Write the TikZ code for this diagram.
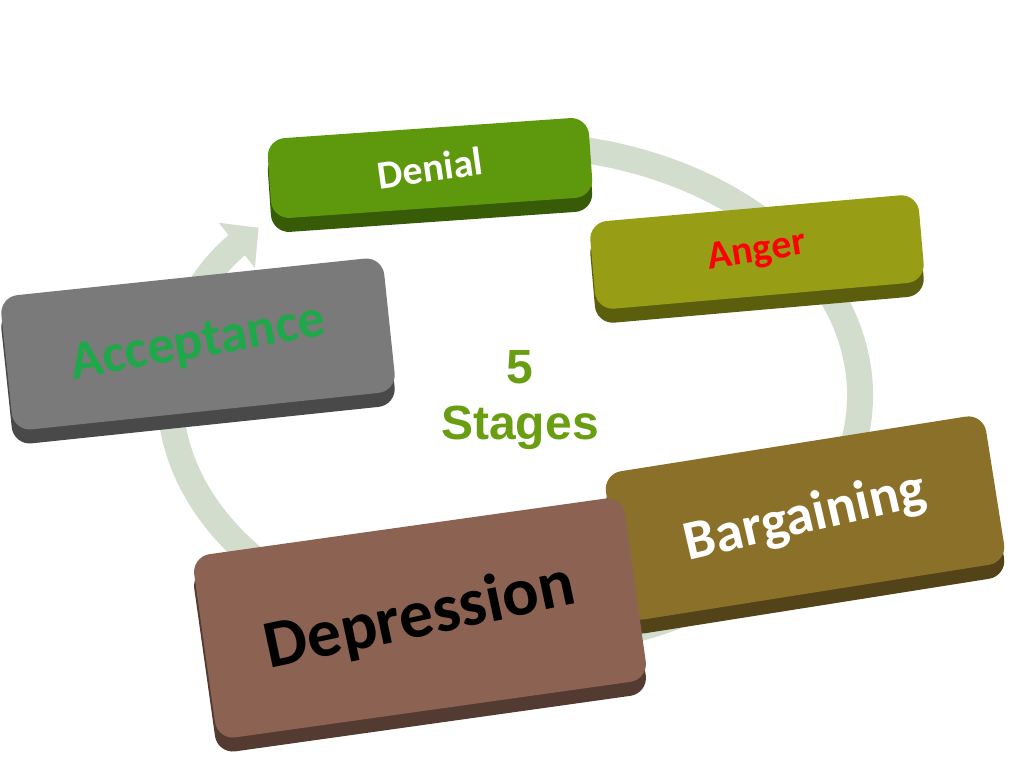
\documentclass[tikz,border=0pt]{standalone}
\usepackage{fontspec}
\setmainfont{Carlito}
\newfontfamily\arialb{Liberation Sans}
\usetikzlibrary{arrows.meta}
\definecolor{ring}{HTML}{D3DDCE}
\definecolor{cden}{HTML}{5E980C}
\definecolor{cang}{HTML}{979E16}
\definecolor{cacc}{HTML}{7A7A7A}
\definecolor{cbar}{HTML}{8A7028}
\definecolor{cdep}{HTML}{8C6353}
\definecolor{tacc}{HTML}{1FA84A}
\definecolor{tstg}{HTML}{6A9E12}
\tikzset{
 face/.style={rounded corners=18pt, inner sep=0pt, font=\bfseries},
 side/.style={rounded corners=18pt, inner sep=0pt},
}
\newcommand{\stagebox}[8]{% name,x,y,w,h,rot,color,text
 \node[side, fill=#7!60!black, minimum width=#4pt, minimum height=#5pt, rotate=#6] (#1s) at (#2pt,#3pt-14pt) {};
 \node[face, fill=#7, minimum width=#4pt, minimum height=#5pt, rotate=#6] (#1) at (#2pt,#3pt) {\rotatebox{4}{#8}};
}
\begin{document}
\begin{tikzpicture}[x=1pt,y=1pt]
\useasboundingbox (0,0) rectangle (1024,768);
\draw[ring, line width=26pt, -{Triangle[width=56pt,length=28pt]}]
  (515,373) ++(100:345 and 250) arc[start angle=100, end angle=-222, x radius=345, y radius=250];
\node[font=\arialb\bfseries\fontsize{48}{56}\selectfont, text=tstg, align=center] (c) at (520,368) {5\\Stages};
\stagebox{den}{430}{600}{322}{80}{4}{cden}{\fontsize{40}{44}\selectfont\color{white}Denial}
\stagebox{ang}{757}{516}{330}{88}{5}{cang}{\fontsize{40}{44}\selectfont\color{red}Anger}
\stagebox{acc}{198}{424}{385}{135}{6}{cacc}{\fontsize{54}{58}\selectfont\color{tacc}Acceptance}
\stagebox{bar}{805}{250}{385}{150}{9}{cbar}{\fontsize{56}{60}\selectfont\color{white}Bargaining}
\stagebox{dep}{420}{150}{435}{185}{8}{cdep}{\fontsize{68}{72}\selectfont\color{black}Depression}
\end{tikzpicture}
\end{document}
